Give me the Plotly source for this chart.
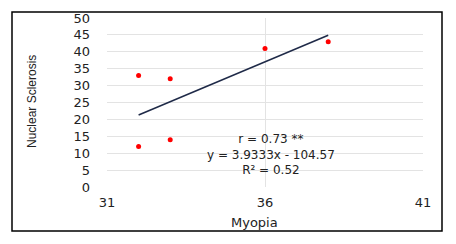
import plotly.graph_objects as go

myopia = [32, 33, 36, 38, 32, 33]
sclerosis = [33, 32, 41, 43, 12, 14]
slope = 3.9333
intercept = -104.57
trend_x = [32, 38]
stat_lines = ["r = 0.73 **", "y = 3.9333x - 104.57", "R² = 0.52"]

trend_y = [slope * v + intercept for v in trend_x]

fig = go.Figure()
fig.add_trace(go.Scatter(x=trend_x, y=trend_y, mode="lines",
                         line=dict(color="#1f2a48", width=1.5), showlegend=False))
fig.add_trace(go.Scatter(x=myopia, y=sclerosis, mode="markers",
                         marker=dict(color="#ff0000", size=5), showlegend=False))

fig.add_annotation(x=36.2, y=9.6, text="<br>".join(stat_lines), showarrow=False,
                   xanchor="center", yanchor="middle", align="center",
                   font=dict(family="DejaVu Sans", size=12, color="#222"))

W, H = 456, 244
l, r, t, b = 107, 33, 18, 57
pw, ph = W - l - r, H - t - b
def px(x): return (x - l) / pw
def py(y): return (H - b - y) / ph

fig.add_shape(type="rect", xref="paper", yref="paper",
              x0=px(12), x1=px(442), y0=py(231), y1=py(12),
              line=dict(color="black", width=1.5), fillcolor="rgba(0,0,0,0)")

fig.add_annotation(xref="paper", yref="paper", x=px(32), y=py(102), text="Nuclear Sclerosis",
                   textangle=-90, showarrow=False, xanchor="center", yanchor="middle",
                   font=dict(family="Liberation Sans Narrow, Arial", size=12, color="#222"))
fig.add_annotation(xref="paper", yref="paper", x=px(254), y=py(222), text="Myopia",
                   showarrow=False, xanchor="center", yanchor="middle",
                   font=dict(family="DejaVu Sans", size=13, color="#222"))

fig.update_xaxes(range=[31, 41], dtick=5, tick0=31, showgrid=True, gridcolor="#e3e3e3",
                 zeroline=False, showline=False, ticks="", ticklabelstandoff=6,
                 tickfont=dict(family="DejaVu Sans", size=13, color="#222"))
fig.update_yaxes(range=[0, 50], dtick=5, showgrid=True, gridcolor="#e3e3e3",
                 zeroline=False, showline=False, ticks="", ticklabelstandoff=16,
                 tickfont=dict(family="DejaVu Sans", size=13, color="#222"))

fig.update_layout(width=W, height=H, margin=dict(l=l, r=r, t=t, b=b),
                  paper_bgcolor="white", plot_bgcolor="white", showlegend=False)

fig.write_html("out.html")
